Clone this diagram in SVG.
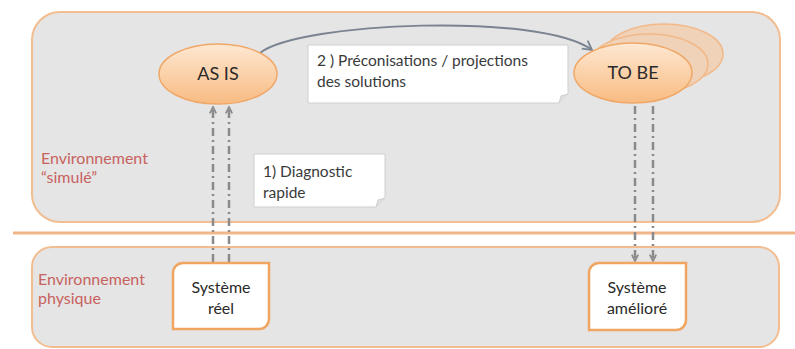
<svg xmlns="http://www.w3.org/2000/svg" width="795" height="349" viewBox="0 0 795 349">
<defs>
<style>
.panel{fill:#e5e5e5;stroke:#f2bd90;stroke-width:2}
.env{font-family:Lato,"Open Sans","Liberation Sans",sans-serif;font-size:16px;fill:#c8625f}
.txt{font-family:Lato,"Open Sans","Liberation Sans",sans-serif;font-size:15.5px;fill:#3a3a3a}
.node{font-family:Lato,"Open Sans","Liberation Sans",sans-serif;font-size:18px;fill:#2a2a2a;text-anchor:middle}
.sys{font-size:16px}
.box{fill:#ffffff;stroke:#f0a560;stroke-width:2.5}
.callout{fill:#ffffff;stroke:#cfcfcf;stroke-width:1}
.ell{fill:url(#eg);stroke:#f0a868;stroke-width:1.5}
.back{fill:#efd2b8;stroke:#f2b888;stroke-width:1.5}
.dd{fill:none;stroke:#8a8a8a;stroke-width:2.5;stroke-dasharray:8 4 2 4}
</style>
<linearGradient id="eg" x1="0" y1="0" x2="0" y2="1">
<stop offset="0" stop-color="#fee8d2"/>
<stop offset="1" stop-color="#f8bb82"/>
</linearGradient>
<marker id="v" viewBox="0 0 10 10" refX="9" refY="5" markerWidth="8" markerHeight="8" orient="auto" markerUnits="userSpaceOnUse">
<path d="M1,1 L9,5 L1,9" fill="none" stroke="#8a8a8a" stroke-width="2.2"/>
</marker>
<marker id="va" viewBox="0 0 12 12" refX="10" refY="6" markerWidth="12" markerHeight="12" orient="auto" markerUnits="userSpaceOnUse">
<path d="M1,1 L10,6 L1,11" fill="none" stroke="#7a8490" stroke-width="1.8"/>
</marker>
</defs>
<rect width="795" height="349" fill="#ffffff"/>
<g id="panel-simule">
<rect class="panel" x="32" y="12" width="748" height="210" rx="28"/>
<text class="env" x="41" y="164">Environnement</text>
<text class="env" x="41" y="183">“simulé”</text>
</g>
<line x1="13" y1="233" x2="795" y2="233" stroke="#f2b589" stroke-width="3"/>
<g id="panel-physique">
<rect class="panel" x="32" y="247" width="747" height="100" rx="20"/>
<text class="env" x="38" y="285">Environnement</text>
<text class="env" x="38" y="304">physique</text>
</g>
<g id="connectors">
<path d="M260,53 C300,22 540,12 592,50" fill="none" stroke="#7a8490" stroke-width="2" marker-end="url(#va)"/>
<line class="dd" x1="213" y1="262" x2="213" y2="107" marker-end="url(#v)"/>
<line class="dd" x1="229" y1="262" x2="229" y2="107" marker-end="url(#v)"/>
<line class="dd" x1="635" y1="106" x2="635" y2="261" marker-end="url(#v)"/>
<line class="dd" x1="653" y1="106" x2="653" y2="261" marker-end="url(#v)"/>
</g>
<g id="as-is">
<ellipse class="ell" cx="218" cy="74" rx="59" ry="30"/>
<text class="node" x="218" y="80">AS IS</text>
</g>
<g id="to-be">
<ellipse class="back" cx="664" cy="54" rx="59" ry="30"/>
<ellipse class="back" cx="649" cy="64" rx="59" ry="30"/>
<ellipse class="ell" cx="633" cy="73" rx="59" ry="30"/>
<text class="node" x="633" y="79">TO BE</text>
</g>
<g id="callout-2">
<path class="callout" d="M308,45 H568 V94 L559,103 H308 Z"/>
<path d="M559,103 L561,96 L568,94" fill="#e0e0e0" stroke="#cfcfcf" stroke-width="1"/>
<text class="txt" x="317" y="66">2 ) Préconisations / projections</text>
<text class="txt" x="317" y="87">des solutions</text>
</g>
<g id="callout-1">
<path class="callout" d="M254,154 H385 V198 L376,207 H254 Z"/>
<path d="M376,207 L378,200 L385,198" fill="#e0e0e0" stroke="#cfcfcf" stroke-width="1"/>
<text class="txt" x="263" y="177">1) Diagnostic</text>
<text class="txt" x="263" y="198">rapide</text>
</g>
<g id="systeme-reel">
<path class="box" d="M183,263 H269 V319 A10,10 0 0 1 259,329 H173 V273 A10,10 0 0 1 183,263 Z"/>
<text class="node sys" x="221" y="293">Système</text>
<text class="node sys" x="221" y="314">réel</text>
</g>
<g id="systeme-ameliore">
<path class="box" d="M599,263 H686 V320 A10,10 0 0 1 676,330 H589 V273 A10,10 0 0 1 599,263 Z"/>
<text class="node sys" x="637" y="293">Système</text>
<text class="node sys" x="637" y="314">amélioré</text>
</g>
</svg>
